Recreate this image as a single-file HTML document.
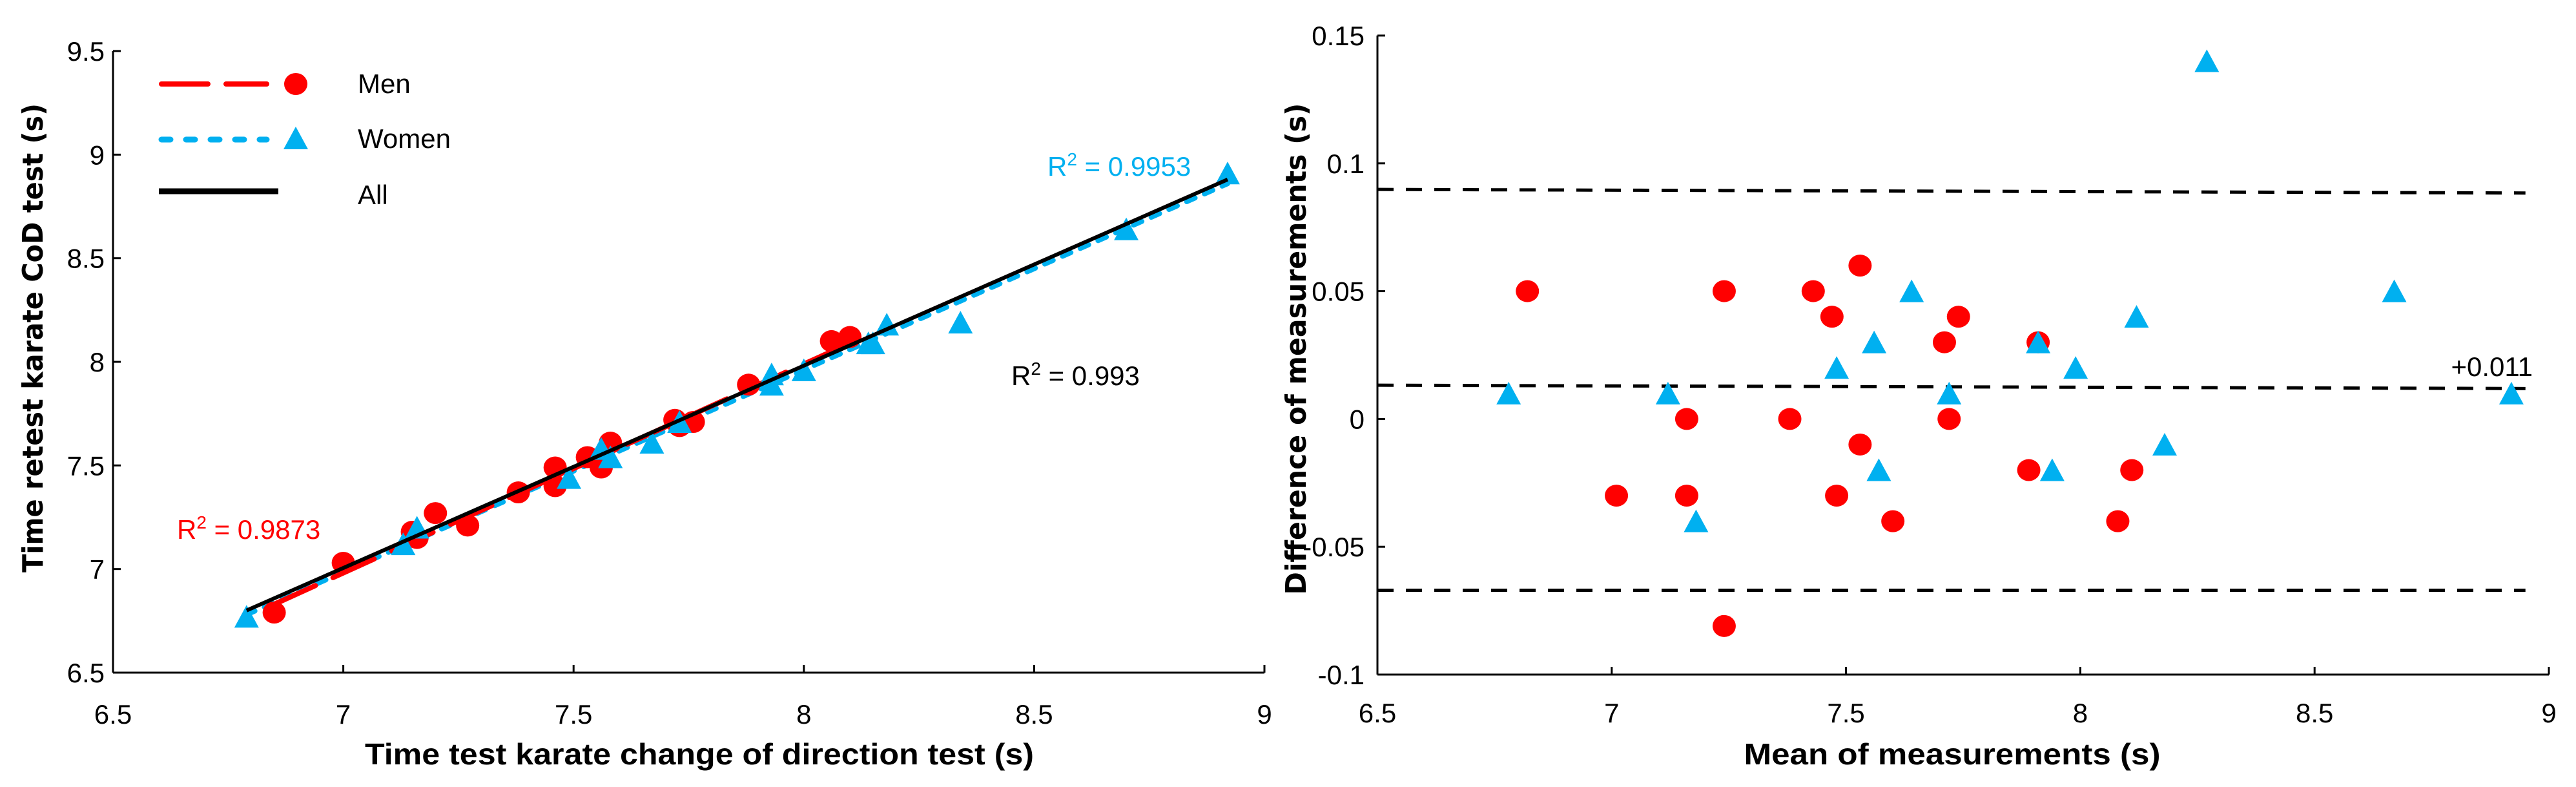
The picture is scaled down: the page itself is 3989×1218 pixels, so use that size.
<!DOCTYPE html>
<html><head><meta charset="utf-8"><style>
html,body{margin:0;padding:0;background:#fff;}
svg{display:block;}
text{font-family:"Liberation Sans Narrow","Liberation Sans",sans-serif;}
</style></head><body>
<svg id="svg" width="3989" height="1218" viewBox="0 0 3989 1218" xmlns="http://www.w3.org/2000/svg">
<g id="left"></g>
<g id="right"></g>
</svg>
<script>
// ---- Left chart data ----
const xTicks = [6.5, 7, 7.5, 8, 8.5, 9];
const xTickLabels = ["6.5", "7", "7.5", "8", "8.5", "9"];
const yTicksL = [6.5, 7, 7.5, 8, 8.5, 9, 9.5];
const yTickLabelsL = ["6.5", "7", "7.5", "8", "8.5", "9", "9.5"];
const menX = [6.85, 7.00, 7.15, 7.16, 7.20, 7.27, 7.38, 7.46, 7.46, 7.53, 7.56, 7.58, 7.72, 7.73, 7.76, 7.88, 8.06, 8.10];
const menY = [6.79, 7.03, 7.18, 7.15, 7.27, 7.21, 7.37, 7.49, 7.40, 7.54, 7.49, 7.61, 7.72, 7.69, 7.71, 7.89, 8.10, 8.12];
const womenX = [6.79, 7.13, 7.16, 7.49, 7.56, 7.58, 7.67, 7.73, 7.93, 7.93, 8.00, 8.14, 8.15, 8.18, 8.34, 8.70, 8.92];
const womenY = [6.77, 7.12, 7.20, 7.44, 7.58, 7.54, 7.61, 7.71, 7.94, 7.89, 7.96, 8.09, 8.09, 8.18, 8.19, 8.64, 8.91];
const menFitX = [6.85, 8.10];
const menFitY = [6.83, 8.09];
const womenFitX = [6.79, 8.92];
const womenFitY = [6.78, 8.86];
const allFitX = [6.79, 8.92];
const allFitY = [6.80, 8.88];
// ---- Right chart data ----
const yTicksR = [-0.1, -0.05, 0, 0.05, 0.1, 0.15];
const yTickLabelsR = ["-0.1", "-0.05", "0", "0.05", "0.1", "0.15"];
const baMenX = [6.82, 7.24, 7.43, 7.53, 7.47, 7.74, 7.71, 7.91, 7.16, 7.38, 7.72, 7.53, 7.89, 8.11, 7.01, 7.16, 7.48, 7.60, 8.08, 7.24];
const baMenY = [0.05, 0.05, 0.05, 0.06, 0.04, 0.04, 0.03, 0.03, 0, 0, 0, -0.01, -0.02, -0.02, -0.03, -0.03, -0.03, -0.04, -0.04, -0.081];
const baWomenX = [8.27, 8.67, 7.64, 8.12, 7.56, 7.91, 7.48, 7.99, 6.78, 7.12, 7.72, 8.92, 8.18, 7.57, 7.94, 7.18];
const baWomenY = [0.14, 0.05, 0.05, 0.04, 0.03, 0.03, 0.02, 0.02, 0.01, 0.01, 0.01, 0.01, -0.01, -0.02, -0.02, -0.04];
const limitX = [6.5, 8.95];
const upperY = [0.0898, 0.0884];
const meanY = [0.0132, 0.0119];
const lowerY = [-0.067, -0.067];

const RED = "#ff0000", BLUE = "#00b0f0";
const NS = "http://www.w3.org/2000/svg";
function mk(parent, tag, attrs, txt) {
  const e = document.createElementNS(NS, tag);
  for (const k in attrs) e.setAttribute(k, attrs[k]);
  if (txt !== undefined) e.textContent = txt;
  parent.appendChild(e);
  return e;
}
function scale(d0, d1, r0, r1) { return v => r0 + (v - d0) / (d1 - d0) * (r1 - r0); }

// ---------- LEFT ----------
const L = document.getElementById('left');
const lx = scale(6.5, 9, 175, 1958);
const ly = scale(6.5, 9.5, 1041, 79);

// axes
let e;
e = mk(L, 'line', {x1: 175, y1: 79, x2: 175, y2: 1041, stroke: '#000', 'stroke-width': 3});


e = mk(L, 'line', {x1: 175, y1: 1041, x2: 1958, y2: 1041, stroke: '#000', 'stroke-width': 3});


yTicksL.forEach((v, i) => {
  const y = ly(v);
  const t = mk(L, 'line', {x1: 175, y1: y, x2: 187, y2: y, stroke: '#000', 'stroke-width': 3});
  
  
  const l = mk(L, 'text', {x: 162, y: y + 15, 'font-size': 42, 'text-anchor': 'end'}, yTickLabelsL[i]);
  
  
});
xTicks.forEach((v, i) => {
  const x = lx(v);
  const t = mk(L, 'line', {x1: x, y1: 1041, x2: x, y2: 1029, stroke: '#000', 'stroke-width': 3});
  
  
  const l = mk(L, 'text', {x: x, y: 1120, 'font-size': 42, 'text-anchor': 'middle'}, xTickLabels[i]);
  
  
});
e = mk(L, 'text', {x: 1083, y: 1183, 'font-size': 46, 'font-weight': 'bold', 'text-anchor': 'middle', textLength: 1036, lengthAdjust: 'spacingAndGlyphs'}, 'Time test karate change of direction test (s)');


e = mk(L, 'text', {x: 0, y: 0, 'font-size': 44, 'font-weight': 'bold', 'text-anchor': 'middle', textLength: 726, lengthAdjust: 'spacingAndGlyphs', transform: 'translate(66,523) rotate(-90)', style: 'font-family:"DejaVu Sans",sans-serif'}, 'Time retest karate CoD test (s)');



// fit lines
e = mk(L, 'line', {x1: lx(womenFitX[0]), y1: ly(womenFitY[0]), x2: lx(womenFitX[1]), y2: ly(womenFitY[1]), stroke: BLUE, 'stroke-width': 8, 'stroke-dasharray': '14 16', 'stroke-linecap': 'round'});


e = mk(L, 'line', {x1: lx(menFitX[0]), y1: ly(menFitY[0]), x2: lx(menFitX[1]), y2: ly(menFitY[1]), stroke: RED, 'stroke-width': 8, 'stroke-dasharray': '70 30', 'stroke-linecap': 'round'});



function circle(g, x, y) {
  const c = mk(g, 'ellipse', {cx: x, cy: y, rx: 18, ry: 17, fill: RED});
  return c;
}
function tri(g, x, y) {
  const p = mk(g, 'polygon', {points: `${x},${y - 18} ${x - 19},${y + 17} ${x + 19},${y + 17}`, fill: BLUE});
  return p;
}
menX.forEach((v, i) => {
  const c = circle(L, lx(v), ly(menY[i]));
  
  
});
womenX.forEach((v, i) => {
  const p = tri(L, lx(v), ly(womenY[i]));
  
  
});
e = mk(L, 'line', {x1: lx(allFitX[0]), y1: ly(allFitY[0]), x2: lx(allFitX[1]), y2: ly(allFitY[1]), stroke: '#000', 'stroke-width': 6});



// R2 labels
function r2(g, x, y, val, color, name) {
  const t = mk(g, 'text', {x: x, y: y, 'font-size': 42, fill: color});
  
  
  t.appendChild(document.createTextNode('R'));
  mk(t, 'tspan', {dy: -16, 'font-size': 28}, '2');
  mk(t, 'tspan', {dy: 16}, ' = ' + val);
}
r2(L, 1622, 272, '0.9953', BLUE, 'r2-women');
r2(L, 1566, 596, '0.993', '#000', 'r2-all');
r2(L, 274, 834, '0.9873', RED, 'r2-men');

// legend
const lg = mk(L, 'g', {});


e = mk(lg, 'line', {x1: 250, y1: 130, x2: 413, y2: 130, stroke: RED, 'stroke-width': 8, 'stroke-dasharray': '72 28', 'stroke-linecap': 'round'});


e = circle(lg, 458, 130);


e = mk(lg, 'text', {x: 554, y: 144, 'font-size': 42}, 'Men');


e = mk(lg, 'line', {x1: 250, y1: 216, x2: 413, y2: 216, stroke: BLUE, 'stroke-width': 9, 'stroke-dasharray': '14 24', 'stroke-linecap': 'round'});


e = tri(lg, 458, 214);


e = mk(lg, 'text', {x: 554, y: 229, 'font-size': 42}, 'Women');


e = mk(lg, 'line', {x1: 246, y1: 296, x2: 431, y2: 296, stroke: '#000', 'stroke-width': 9});


e = mk(lg, 'text', {x: 554, y: 316, 'font-size': 42}, 'All');



// ---------- RIGHT ----------
const R = document.getElementById('right');
const rx = scale(6.5, 9, 2133, 3947);
const ry = scale(-0.1, 0.15, 1044, 55);
e = mk(R, 'line', {x1: 2133, y1: 55, x2: 2133, y2: 1044, stroke: '#000', 'stroke-width': 3});


e = mk(R, 'line', {x1: 2133, y1: 1044, x2: 3947, y2: 1044, stroke: '#000', 'stroke-width': 3});


yTicksR.forEach((v, i) => {
  const y = ry(v);
  const t = mk(R, 'line', {x1: 2133, y1: y, x2: 2145, y2: y, stroke: '#000', 'stroke-width': 3});
  
  
  const l = mk(R, 'text', {x: 2113, y: y + 15, 'font-size': 42, 'text-anchor': 'end'}, yTickLabelsR[i]);
  
  
});
xTicks.forEach((v, i) => {
  const x = rx(v);
  const t = mk(R, 'line', {x1: x, y1: 1044, x2: x, y2: 1032, stroke: '#000', 'stroke-width': 3});
  
  
  const l = mk(R, 'text', {x: x, y: 1118, 'font-size': 42, 'text-anchor': 'middle'}, xTickLabels[i]);
  
  
});
e = mk(R, 'text', {x: 3023, y: 1183, 'font-size': 46, 'font-weight': 'bold', 'text-anchor': 'middle', textLength: 645, lengthAdjust: 'spacingAndGlyphs'}, 'Mean of measurements (s)');


e = mk(R, 'text', {x: 0, y: 0, 'font-size': 44, 'font-weight': 'bold', 'text-anchor': 'middle', textLength: 761, lengthAdjust: 'spacingAndGlyphs', transform: 'translate(2022,540) rotate(-90)', style: 'font-family:"DejaVu Sans",sans-serif'}, 'Difference of measurements (s)');



[['upper-limit-line', upperY], ['mean-difference-line', meanY], ['lower-limit-line', lowerY]].forEach(([n, ys]) => {
  const ln = mk(R, 'line', {x1: rx(limitX[0]), y1: ry(ys[0]), x2: rx(limitX[1]), y2: ry(ys[1]), stroke: '#000', 'stroke-width': 5, 'stroke-dasharray': '25 19'});
  
  
});
e = mk(R, 'text', {x: 3922, y: 582, 'font-size': 42, 'text-anchor': 'end'}, '+0.011');



baMenX.forEach((v, i) => {
  const c = circle(R, rx(v), ry(baMenY[i]));
  
  
});
baWomenX.forEach((v, i) => {
  const p = tri(R, rx(v), ry(baWomenY[i]));
  
  
});
</script>
</body></html>
